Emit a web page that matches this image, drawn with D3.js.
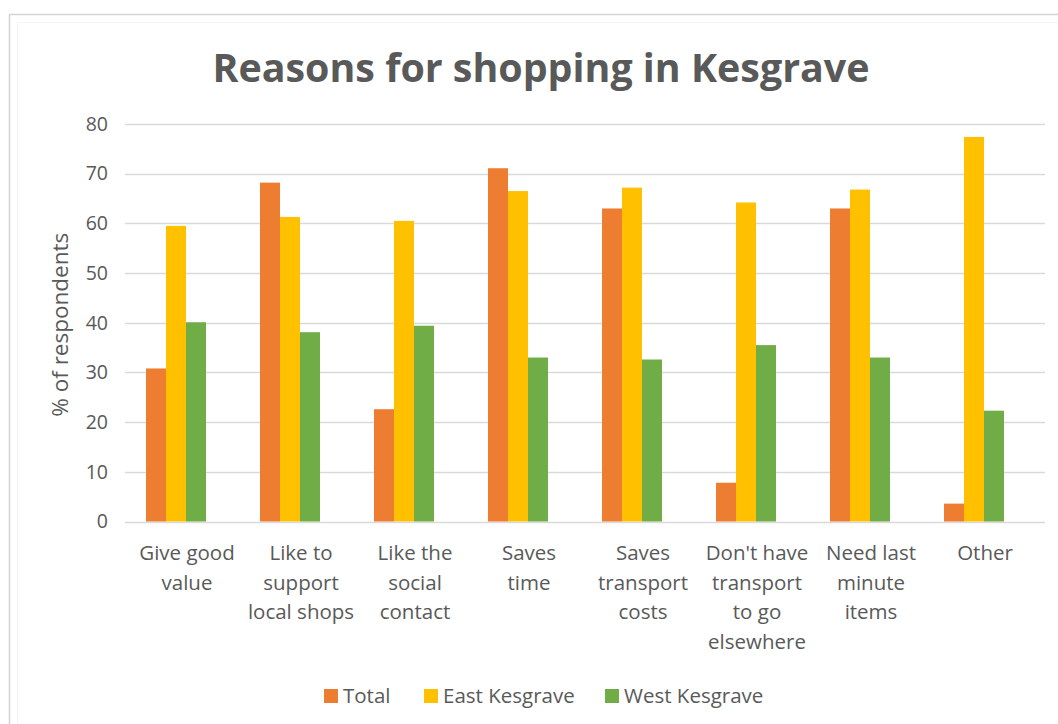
<!DOCTYPE html>
<html>
<head>
<meta charset="utf-8">
<script src="https://cdn.jsdelivr.net/npm/d3@7"></script>
<style>
  html, body { margin: 0; padding: 0; background: #ffffff; }
  svg { display: block; }
  text { font-family: "Open Sans", "Noto Sans", sans-serif; fill: #595959; }
</style>
</head>
<body>
<svg id="chart" width="1058" height="724"></svg>
<script>
// Survey reasons (line breaks as shown under the axis)
const categories = [
  "Give good\nvalue",
  "Like to\nsupport\nlocal shops",
  "Like the\nsocial\ncontact",
  "Saves\ntime",
  "Saves\ntransport\ncosts",
  "Don't have\ntransport\nto go\nelsewhere",
  "Need last\nminute\nitems",
  "Other"
];
const seriesNames = ["Total", "East Kesgrave", "West Kesgrave"];
const totalValues = [30.8, 68.2, 22.6, 71.1, 63.0, 7.8, 63.0, 3.6];
const eastValues  = [59.5, 61.3, 60.5, 66.5, 67.2, 64.2, 66.8, 77.4];
const westValues  = [40.1, 38.1, 39.4, 33.0, 32.6, 35.5, 33.0, 22.3];
const yTicks = [0, 10, 20, 30, 40, 50, 60, 70, 80];
const titleText = "Reasons for shopping in Kesgrave";
const yTitle = "% of respondents";

const colors = { "Total": "#ED7D31", "East Kesgrave": "#FFC000", "West Kesgrave": "#70AD47" };
const valuesBySeries = { "Total": totalValues, "East Kesgrave": eastValues, "West Kesgrave": westValues };

const svg = d3.select("#chart");

// chart frame
svg.append("rect").attr("x", 9.5).attr("y", 14.5).attr("width", 1100).attr("height", 800)
  .attr("fill", "#ffffff").attr("stroke", "#d4d4d4").attr("stroke-width", 1.5);
svg.append("rect").attr("x", 17.5).attr("y", 22.5).attr("width", 1100).attr("height", 800)
  .attr("fill", "none").attr("stroke", "#f4f4f4").attr("stroke-width", 1);

// plot extents
const gridLeft = 125, gridRight = 1045;
const y = d3.scaleLinear().domain([0, 80]).range([521.5, 124]);

const x0 = d3.scaleBand().domain(categories).range([119, 1031]).paddingInner(0).paddingOuter(0);
const groupW = 60;
const x1 = d3.scaleBand().domain(seriesNames)
  .range([(x0.bandwidth() - groupW) / 2, (x0.bandwidth() + groupW) / 2]);

// gridlines
svg.append("g").selectAll("line").data(yTicks).join("line")
  .attr("x1", gridLeft).attr("x2", gridRight)
  .attr("y1", d => Math.round(y(d)) + 0.5).attr("y2", d => Math.round(y(d)) + 0.5)
  .attr("stroke", "#d9d9d9").attr("stroke-width", 1.3);

// y axis tick labels
const yAxis = d3.axisLeft(y).tickValues(yTicks).tickSize(0).tickPadding(0);
const gy = svg.append("g").attr("transform", "translate(108,0)").call(yAxis);
gy.select(".domain").remove();
gy.selectAll("text")
  .style("font-family", "'Open Sans', sans-serif")
  .style("font-size", "19.5px")
  .attr("fill", "#595959");

// y axis title
svg.append("text")
  .attr("transform", `translate(68,${(y(0) + y(80)) / 2 + 2}) rotate(-90)`)
  .attr("text-anchor", "middle")
  .style("font-size", "22.5px")
  .text(yTitle);

// bars
const groups = svg.append("g").selectAll("g").data(categories).join("g")
  .attr("transform", d => `translate(${x0(d)},0)`);
groups.selectAll("rect")
  .data((d, i) => seriesNames.map(s => ({ s, v: valuesBySeries[s][i] })))
  .join("rect")
  .attr("x", d => x1(d.s))
  .attr("width", x1.bandwidth())
  .attr("y", d => y(d.v))
  .attr("height", d => y(0) - y(d.v))
  .attr("fill", d => colors[d.s]);

// category labels
const labelShift = 11;
const catLabels = svg.append("g").selectAll("text").data(categories).join("text")
  .attr("text-anchor", "middle")
  .style("font-size", "20.5px")
  .attr("transform", d => `translate(${x0(d) + x0.bandwidth() / 2 + labelShift},560)`);
catLabels.selectAll("tspan").data(d => d.split("\n")).join("tspan")
  .attr("x", 0).attr("dy", (d, i) => i === 0 ? 0 : 29.5)
  .text(d => d);

// title
svg.append("text")
  .attr("x", 541).attr("y", 82)
  .attr("text-anchor", "middle")
  .style("font-size", "40px").style("font-weight", "bold")
  .attr("textLength", 657).attr("lengthAdjust", "spacingAndGlyphs")
  .text(titleText);

// legend
const legendX = [324, 424, 605];
const legend = svg.append("g").selectAll("g").data(seriesNames).join("g")
  .attr("transform", (d, i) => `translate(${legendX[i]},689)`);
legend.append("rect").attr("width", 14).attr("height", 14).attr("fill", d => colors[d]);
legend.append("text").attr("x", 19).attr("y", 14)
  .style("font-size", "20.5px").text(d => d);
</script>
</body>
</html>
